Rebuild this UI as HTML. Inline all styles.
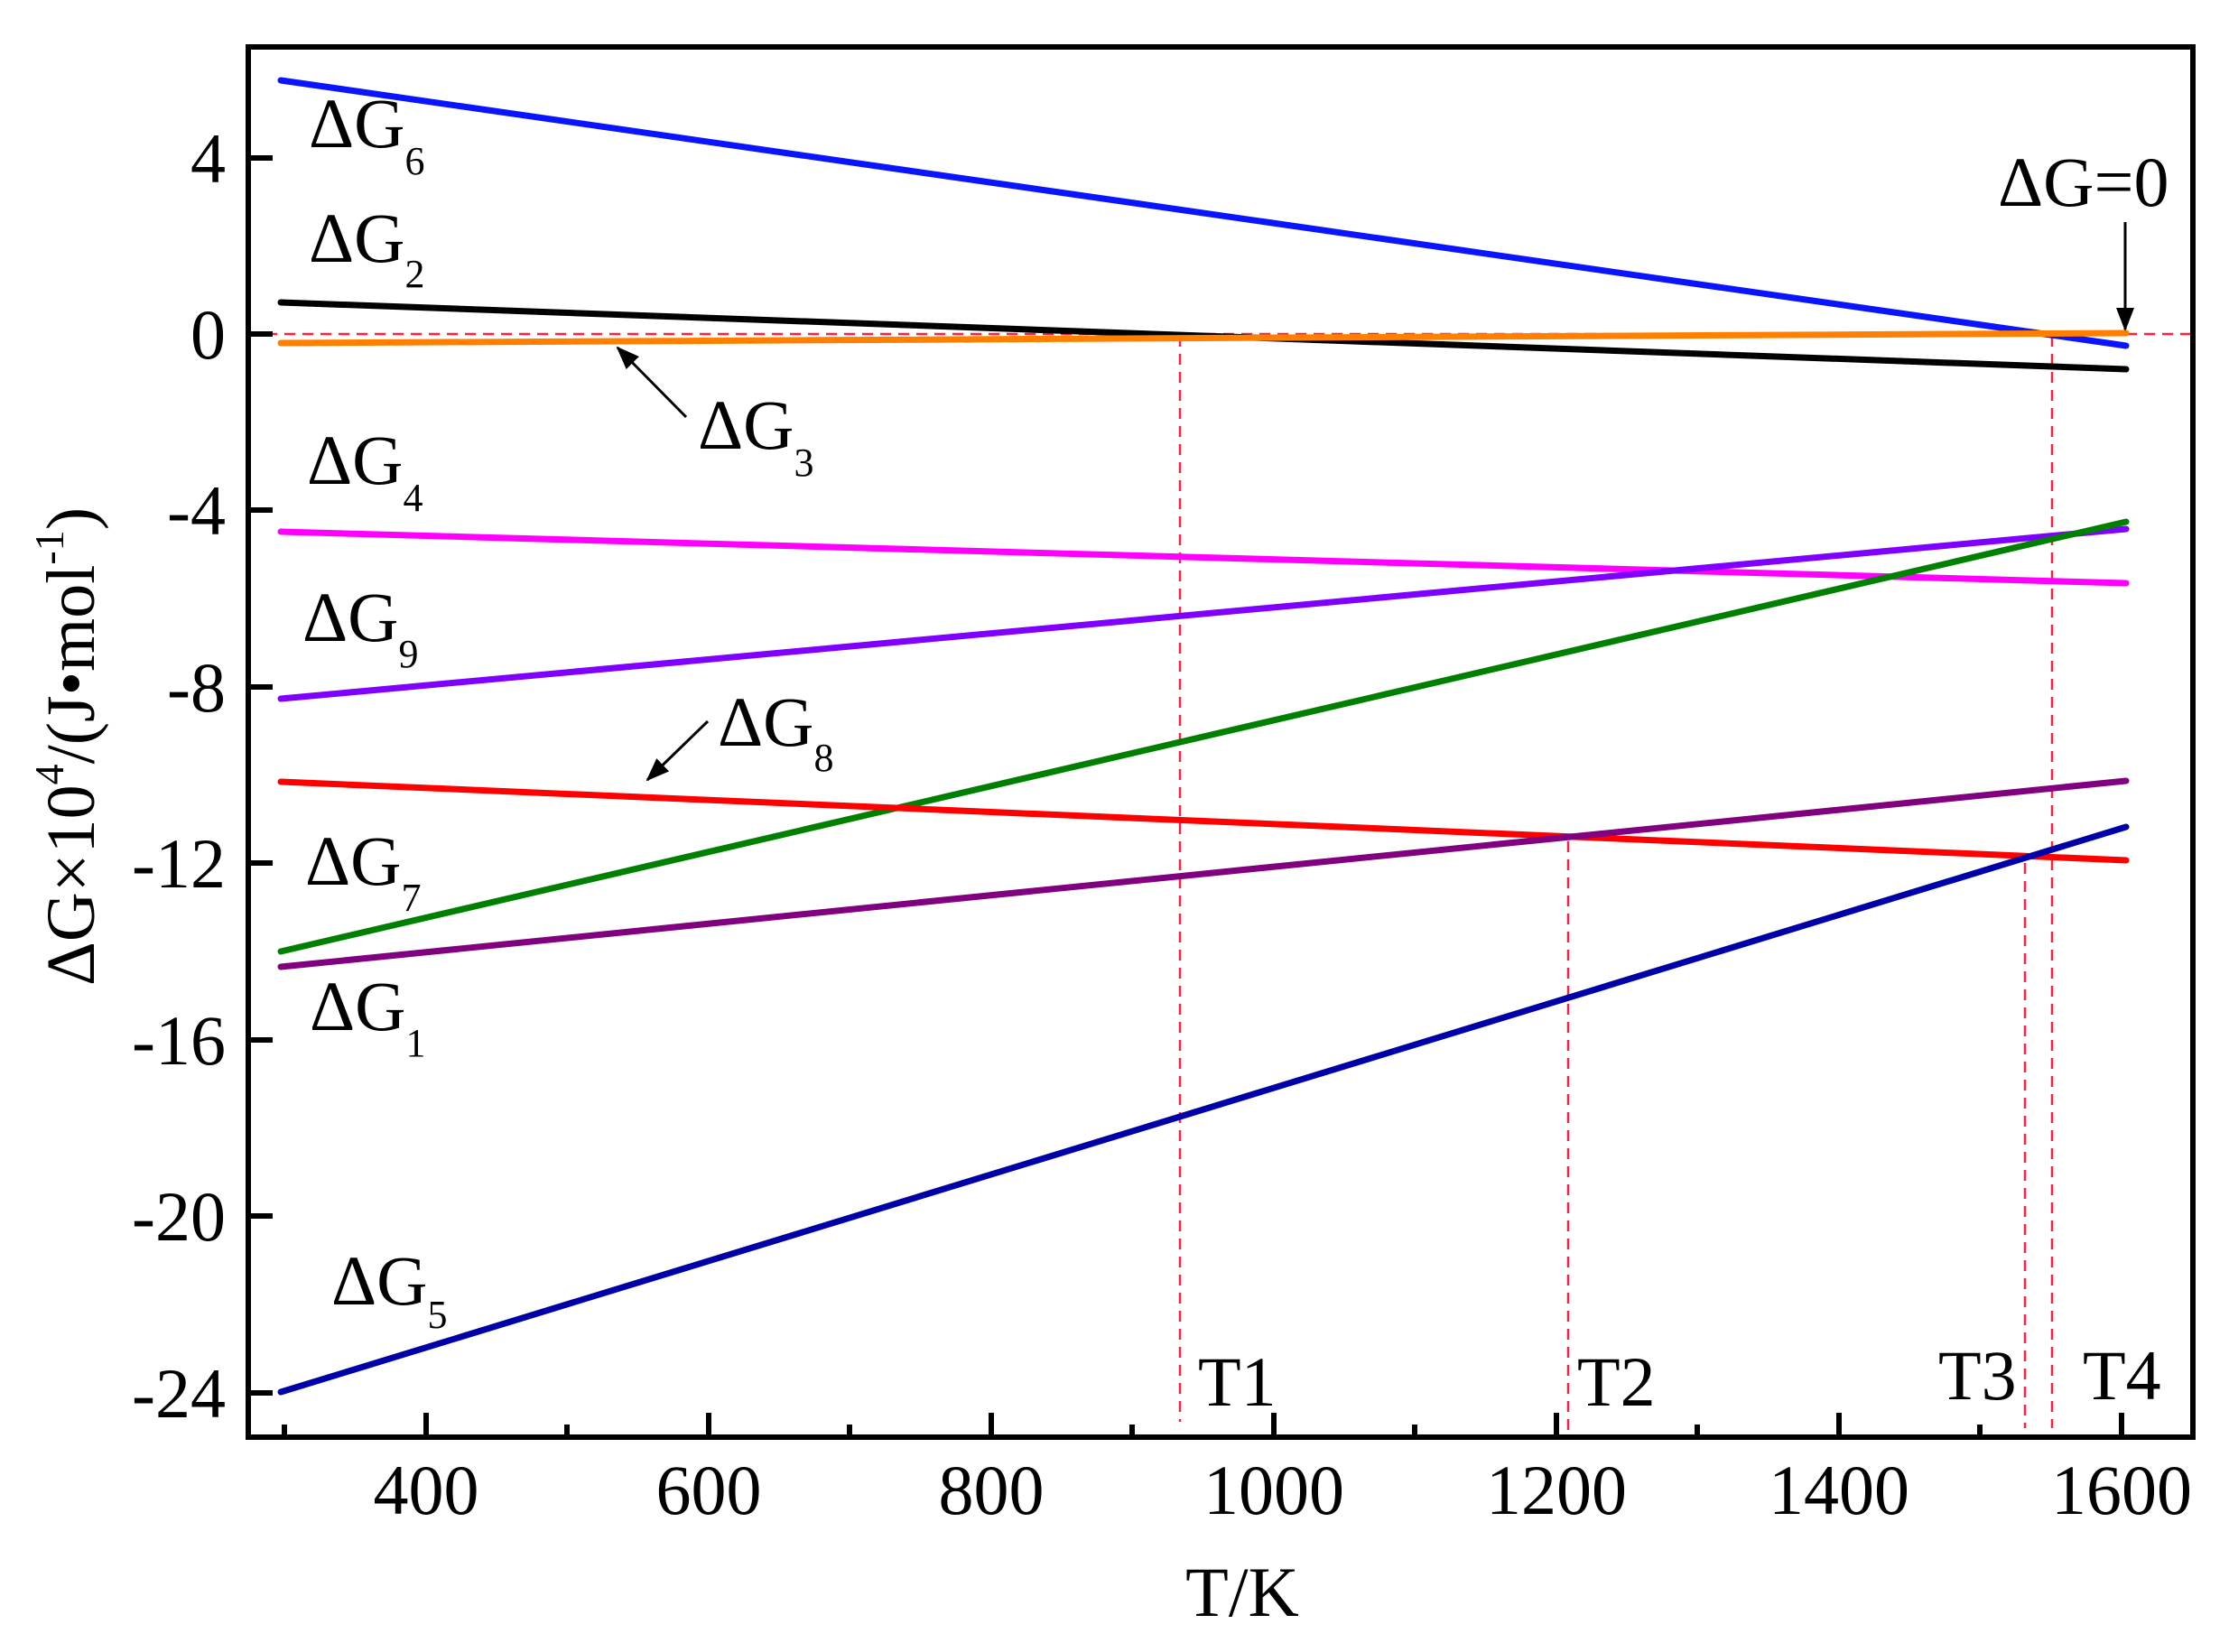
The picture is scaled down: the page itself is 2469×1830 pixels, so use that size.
<!DOCTYPE html>
<html><head><meta charset="utf-8"><style>
html,body{margin:0;padding:0;background:#fff}
svg{display:block}
text{font-family:"Liberation Serif",serif;fill:#000}
</style></head><body>
<svg width="2469" height="1830" viewBox="0 0 2469 1830" xmlns="http://www.w3.org/2000/svg">
<defs>
<marker id="ah" markerWidth="26" markerHeight="20" refX="24" refY="10" orient="auto" markerUnits="userSpaceOnUse" viewBox="0 0 26 20">
<path d="M0,0 L26,10 L0,20 z" fill="#000"/></marker>
</defs>
<g stroke="#ff2040" stroke-width="2.5" stroke-dasharray="12,8" fill="none">
<line x1="275" y1="370" x2="2429" y2="370"/>
<line x1="1307" y1="372" x2="1307" y2="1575"/>
<line x1="1737" y1="932" x2="1737" y2="1592"/>
<line x1="2243" y1="956" x2="2243" y2="1582"/>
<line x1="2273" y1="372" x2="2273" y2="1582"/>
</g>
<g fill="none" stroke-width="7" stroke-linecap="round">
<line x1="311" y1="89" x2="2355" y2="383" stroke="#0a14ff"/>
<line x1="311" y1="335" x2="2355" y2="409" stroke="#000"/>
<line x1="311" y1="380" x2="2355" y2="369" stroke="#ff8000"/>
<line x1="311" y1="589" x2="2355" y2="646" stroke="#ff00ff"/>
<line x1="311" y1="774" x2="2355" y2="586" stroke="#8000ff"/>
<line x1="311" y1="1054" x2="2355" y2="578" stroke="#008000"/>
<line x1="311" y1="866" x2="2355" y2="953" stroke="#ff0000"/>
<line x1="311" y1="1071" x2="2355" y2="865" stroke="#800080"/>
<line x1="311" y1="1542" x2="2355" y2="916" stroke="#0000a8"/>
</g>
<rect x="275" y="52" width="2154" height="1540" fill="none" stroke="#000" stroke-width="6"/>
<g stroke="#000" stroke-width="6">
<line x1="315" y1="1592" x2="315" y2="1578"/>
<line x1="472" y1="1592" x2="472" y2="1565"/>
<line x1="628" y1="1592" x2="628" y2="1578"/>
<line x1="785" y1="1592" x2="785" y2="1565"/>
<line x1="941" y1="1592" x2="941" y2="1578"/>
<line x1="1098" y1="1592" x2="1098" y2="1565"/>
<line x1="1254" y1="1592" x2="1254" y2="1578"/>
<line x1="1411" y1="1592" x2="1411" y2="1565"/>
<line x1="1567" y1="1592" x2="1567" y2="1578"/>
<line x1="1724" y1="1592" x2="1724" y2="1565"/>
<line x1="1880" y1="1592" x2="1880" y2="1578"/>
<line x1="2037" y1="1592" x2="2037" y2="1565"/>
<line x1="2193" y1="1592" x2="2193" y2="1578"/>
<line x1="2350" y1="1592" x2="2350" y2="1565"/>
<line x1="275" y1="175" x2="302" y2="175"/>
<line x1="275" y1="370" x2="302" y2="370"/>
<line x1="275" y1="565" x2="302" y2="565"/>
<line x1="275" y1="761" x2="302" y2="761"/>
<line x1="275" y1="956" x2="302" y2="956"/>
<line x1="275" y1="1152" x2="302" y2="1152"/>
<line x1="275" y1="1347" x2="302" y2="1347"/>
<line x1="275" y1="1543" x2="302" y2="1543"/>
</g>
<g font-size="78" text-anchor="middle">
<text x="472" y="1677">400</text>
<text x="785" y="1677">600</text>
<text x="1098" y="1677">800</text>
<text x="1411" y="1677">1000</text>
<text x="1724" y="1677">1200</text>
<text x="2037" y="1677">1400</text>
<text x="2350" y="1677">1600</text>
</g>
<g font-size="78" text-anchor="end">
<text x="250" y="202">4</text>
<text x="250" y="397">0</text>
<text x="250" y="592">-4</text>
<text x="250" y="788">-8</text>
<text x="250" y="983">-12</text>
<text x="250" y="1179">-16</text>
<text x="250" y="1374">-20</text>
<text x="250" y="1570">-24</text>
</g>
<text x="1376" y="1790" font-size="78" text-anchor="middle">T/K</text>
<text transform="translate(104,827) rotate(-90)" font-size="76" text-anchor="middle">ΔG×10<tspan font-size="46" dy="-34">4</tspan><tspan dy="34">/(J•mol</tspan><tspan font-size="46" dy="-34">-1</tspan><tspan dy="34">)</tspan></text>
<g font-size="78">
<text x="342" y="163">ΔG<tspan font-size="44" dy="30">6</tspan></text>
<text x="342" y="290">ΔG<tspan font-size="44" dy="28">2</tspan></text>
<text x="773" y="497">ΔG<tspan font-size="44" dy="30">3</tspan></text>
<text x="340" y="536">ΔG<tspan font-size="44" dy="30">4</tspan></text>
<text x="335" y="710">ΔG<tspan font-size="44" dy="29">9</tspan></text>
<text x="795" y="826">ΔG<tspan font-size="44" dy="28">8</tspan></text>
<text x="338" y="980">ΔG<tspan font-size="44" dy="29">7</tspan></text>
<text x="343" y="1141">ΔG<tspan font-size="44" dy="29">1</tspan></text>
<text x="367" y="1445">ΔG<tspan font-size="44" dy="26">5</tspan></text>
<text x="2213" y="228">ΔG=0</text>
<text x="1327" y="1557">T1</text>
<text x="1747" y="1557">T2</text>
<text x="2147" y="1550">T3</text>
<text x="2307" y="1550">T4</text>
</g>
<g stroke="#000" stroke-width="3" marker-end="url(#ah)">
<line x1="760" y1="462" x2="684" y2="385"/>
<line x1="784" y1="799" x2="717" y2="864"/>
<line x1="2354" y1="246" x2="2354" y2="365"/>
</g>
</svg>
</body></html>
